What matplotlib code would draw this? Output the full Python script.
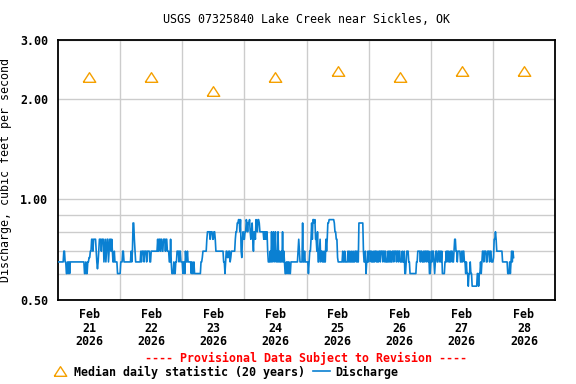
import pandas as pd
import matplotlib
matplotlib.use('Agg')
import matplotlib.pyplot as plt
from matplotlib.lines import Line2D

plt.rcParams['font.family'] = ['DejaVu Sans Mono']
plt.rcParams['font.weight'] = 'bold'

site_title = 'USGS 07325840 Lake Creek near Sickles, OK'
y_label = 'Discharge, cubic feet per second'
note = '---- Provisional Data Subject to Revision ----'

# dias (meio-dia) e rótulos do eixo x
day_centers = pd.date_range('2026-02-21 12:00', periods=8, freq='D')
day_labels = ['Feb\n21\n2026', 'Feb\n22\n2026', 'Feb\n23\n2026', 'Feb\n24\n2026',
              'Feb\n25\n2026', 'Feb\n26\n2026', 'Feb\n27\n2026', 'Feb\n28\n2026']

# mediana diária (20 anos)
median_cfs = [2.32, 2.32, 2.11, 2.32, 2.43, 2.32, 2.43, 2.43]

# vazão a cada 15 min, como (valor, nº de leituras seguidas)
discharge_runs = [
    # 21 fev
    (0.65, 8), (0.70, 2), (0.65, 2), (0.60, 2), (0.65, 1), (0.60, 1), (0.65, 1), (0.60, 1),
    (0.65, 22), (0.60, 2), (0.65, 1), (0.60, 2), (0.65, 2), (0.67, 2), (0.70, 2), (0.76, 2),
    (0.70, 1), (0.76, 4), (0.70, 1), (0.65, 1), (0.62, 1), (0.65, 1), (0.70, 1),
    (0.76, 3), (0.70, 1), (0.76, 3), (0.65, 1), (0.70, 1), (0.76, 1), (0.65, 1), (0.70, 1),
    (0.76, 2), (0.65, 1), (0.70, 1), (0.76, 2), (0.70, 1), (0.76, 1),
    (0.70, 1), (0.65, 2), (0.70, 1), (0.65, 4), (0.60, 5), (0.65, 3), (0.70, 2), (0.65, 1),
    (0.65, 10), (0.70, 1), (0.65, 1), (0.70, 1), (0.85, 2), (0.76, 1), (0.70, 1), (0.65, 7),
    # 22 fev
    (0.65, 1), (0.70, 1), (0.65, 1), (0.70, 1), (0.70, 2), (0.65, 1), (0.70, 3), (0.65, 1),
    (0.70, 4), (0.65, 2), (0.70, 10),
    (0.76, 1), (0.70, 1), (0.76, 2), (0.70, 1), (0.76, 2), (0.70, 2), (0.76, 3), (0.70, 1),
    (0.76, 2), (0.70, 3),
    (0.65, 2), (0.76, 1), (0.65, 1), (0.60, 3), (0.65, 1), (0.60, 2), (0.65, 2), (0.70, 2),
    (0.70, 1), (0.65, 1), (0.70, 2), (0.65, 1),
    (0.65, 2), (0.60, 1), (0.65, 2), (0.60, 1), (0.70, 1), (0.65, 2), (0.70, 1), (0.65, 3),
    (0.65, 2), (0.60, 1), (0.65, 1), (0.60, 2), (0.65, 1),
    (0.60, 10), (0.65, 2), (0.67, 1), (0.70, 6), (0.76, 1), (0.80, 4), (0.76, 1), (0.80, 3),
    (0.76, 2), (0.80, 2), (0.76, 1), (0.70, 10),
    # 23 fev
    (0.70, 2), (0.65, 2), (0.60, 1), (0.65, 1), (0.70, 2), (0.67, 2), (0.70, 2), (0.65, 1),
    (0.67, 1), (0.70, 6), (0.76, 1), (0.80, 2), (0.85, 2), (0.87, 2), (0.80, 1), (0.87, 1),
    (0.70, 1), (0.67, 1), (0.76, 1),
    (0.80, 1), (0.76, 2), (0.80, 2), (0.87, 1), (0.85, 1), (0.80, 1), (0.85, 2), (0.87, 1),
    (0.80, 1), (0.76, 1), (0.80, 1), (0.85, 1), (0.76, 1), (0.70, 1), (0.80, 2), (0.76, 1),
    (0.87, 1), (0.85, 1), (0.80, 1),
    (0.87, 2), (0.85, 1), (0.80, 6), (0.76, 1), (0.80, 1), (0.76, 1), (0.80, 1), (0.76, 1),
    (0.80, 1), (0.70, 1), (0.65, 3),
    (0.70, 1), (0.65, 1), (0.80, 1), (0.65, 1), (0.70, 1), (0.80, 1), (0.65, 1), (0.70, 1),
    (0.80, 1), (0.65, 1), (0.70, 1), (0.65, 1), (0.80, 1), (0.65, 1), (0.70, 1), (0.65, 2),
    (0.70, 1), (0.65, 1), (0.80, 1), (0.65, 1), (0.70, 1), (0.65, 1),
    (0.60, 2), (0.65, 1), (0.60, 1), (0.65, 1), (0.60, 1), (0.65, 1), (0.60, 2), (0.65, 11),
    (0.70, 1), (0.76, 1), (0.70, 1), (0.65, 4), (0.85, 1), (0.65, 2),
    # 24-25 fev
    (0.70, 1), (0.65, 5), (0.60, 1), (0.65, 1), (0.70, 2), (0.76, 1), (0.85, 1), (0.76, 1),
    (0.87, 2), (0.85, 1), (0.87, 1), (0.76, 2), (0.70, 1), (0.80, 1), (0.65, 2), (0.70, 1),
    (0.76, 1), (0.65, 1), (0.70, 2), (0.65, 2), (0.70, 1), (0.65, 2), (0.76, 1), (0.70, 1),
    (0.76, 1), (0.85, 2), (0.87, 8), (0.85, 1), (0.80, 2), (0.76, 2), (0.67, 1), (0.65, 7),
    (0.70, 1), (0.65, 2), (0.70, 1), (0.65, 4), (0.70, 1), (0.65, 1), (0.70, 1), (0.65, 2),
    (0.70, 1), (0.65, 2), (0.70, 1), (0.65, 2), (0.70, 2), (0.65, 1), (0.70, 1), (0.65, 2),
    (0.85, 7), (0.70, 1), (0.65, 2), (0.70, 1), (0.60, 1), (0.65, 2), (0.70, 1), (0.65, 1),
    (0.70, 3), (0.65, 1), (0.70, 1), (0.65, 2), (0.70, 1), (0.65, 1), (0.70, 2), (0.65, 1),
    (0.70, 1), (0.65, 2), (0.70, 2), (0.65, 1), (0.70, 3), (0.65, 1), (0.70, 2), (0.65, 1),
    (0.70, 1), (0.65, 1),
    # 26-27 fev
    (0.65, 2), (0.70, 1), (0.65, 1), (0.70, 1), (0.65, 1), (0.70, 1), (0.65, 2), (0.70, 2),
    (0.65, 1), (0.70, 3), (0.65, 1), (0.70, 2), (0.65, 1), (0.70, 2), (0.65, 3), (0.70, 1),
    (0.65, 2), (0.70, 1), (0.60, 2), (0.65, 1), (0.70, 3), (0.65, 2), (0.60, 10), (0.65, 2),
    (0.70, 4), (0.65, 1), (0.70, 2), (0.65, 2), (0.70, 1), (0.65, 1), (0.70, 2), (0.65, 1),
    (0.70, 2), (0.65, 1), (0.70, 1), (0.60, 2), (0.65, 1), (0.70, 1),
    (0.65, 1), (0.70, 2), (0.65, 1), (0.60, 1), (0.65, 1), (0.70, 2), (0.65, 2), (0.70, 2),
    (0.65, 1), (0.70, 1), (0.65, 1), (0.70, 1), (0.60, 4), (0.65, 2), (0.70, 1), (0.65, 1),
    (0.70, 2), (0.65, 2), (0.70, 1), (0.65, 1), (0.70, 2), (0.65, 2), (0.70, 1), (0.76, 2),
    (0.70, 2), (0.65, 1), (0.70, 4), (0.65, 2), (0.70, 1), (0.65, 1), (0.70, 2), (0.65, 2),
    (0.60, 1), (0.65, 1),
    # 27-28 fev
    (0.60, 2), (0.55, 1), (0.60, 2), (0.65, 1), (0.60, 2), (0.55, 8), (0.60, 2), (0.55, 1),
    (0.60, 2), (0.65, 1), (0.60, 1), (0.65, 1), (0.70, 2), (0.65, 1), (0.70, 3), (0.65, 2),
    (0.70, 3), (0.65, 1), (0.70, 2), (0.65, 3), (0.67, 1), (0.76, 2), (0.80, 1), (0.76, 1),
    (0.70, 9), (0.65, 8), (0.60, 3), (0.65, 1), (0.60, 1), (0.65, 1), (0.70, 1), (0.65, 1),
    (0.70, 1), (0.67, 1),
]

valores = []
for v, n in discharge_runs:
    valores += [v] * n
tempos = pd.date_range('2026-02-21 00:15', periods=len(valores), freq='15min')

fig = plt.figure(figsize=(5.76, 3.84), dpi=100)
ax = fig.add_axes([58 / 576, 1 - 300 / 384, 497 / 576, 260 / 384])

ax.plot(tempos, valores, color='#0a80d2', linewidth=1.2, zorder=3)
tri = [(-1.3, -1), (1.3, -1), (0, 1), (-1.3, -1)]
ax.plot(day_centers, median_cfs, linestyle='none', marker=tri, markersize=9,
        markerfacecolor='none', markeredgecolor='#f5a000', markeredgewidth=1.0, zorder=4)

ax.set_yscale('log')
ax.set_ylim(0.5, 3.0)
ax.set_yticks([0.5, 1.0, 2.0, 3.0])
ax.set_yticklabels(['0.50', '1.00', '2.00', '3.00'])
ax.set_yticks([0.6, 0.7, 0.8, 0.9], minor=True)
ax.yaxis.set_minor_formatter(plt.NullFormatter())

ax.set_xlim(pd.Timestamp('2026-02-21'), pd.Timestamp('2026-03-01'))
ax.set_xticks(day_centers)
ax.set_xticklabels(day_labels, linespacing=1.05)
ax.set_xticks(pd.date_range('2026-02-22', periods=7, freq='D'), minor=True)

ax.grid(True, which='both', color='#cccccc', linewidth=1.0)
ax.grid(False, which='major', axis='x')
ax.set_axisbelow(True)
ax.tick_params(which='both', length=0, labelsize=8.4)
ax.tick_params(axis='y', pad=7)
ax.tick_params(axis='x', pad=6)
for s in ax.spines.values():
    s.set_linewidth(1.3)

ax.set_title(site_title, fontsize=8.4, pad=12)
ax.set_ylabel(y_label, fontsize=8.4)
ax.yaxis.set_label_coords(-46 / 497, 0.5)

fig.text(306 / 576, 1 - 358 / 384, note, color='red', fontsize=8.4,
         ha='center', va='center')

handles = [
    Line2D([], [], linestyle='none', marker=tri, markersize=9, markerfacecolor='none',
           markeredgecolor='#f5a000', markeredgewidth=1.0),
    Line2D([], [], color='#0a80d2', linewidth=1.2),
]
fig.legend(handles, ['Median daily statistic (20 years)', 'Discharge'], ncol=2,
           loc='center left', bbox_to_anchor=(52 / 576, 1 - 372 / 384), frameon=False,
           fontsize=8.4, handlelength=1.4, handletextpad=0.5, columnspacing=0.7,
           borderpad=0, borderaxespad=0)

fig.savefig('out.png', dpi=100)
